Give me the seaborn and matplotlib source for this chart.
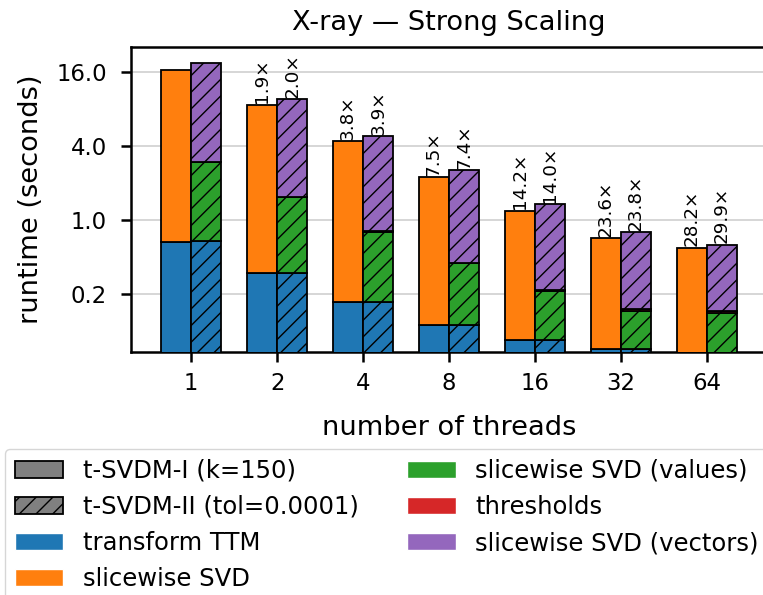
import numpy as np
import matplotlib
matplotlib.use("Agg")
import matplotlib.pyplot as plt
from matplotlib.patches import Patch
from matplotlib.ticker import FixedLocator, FuncFormatter, NullLocator
import seaborn as sns

threads = ["1", "2", "4", "8", "16", "32", "64"]

# t-SVDM-I (k=150)
ttm_1 = [0.666, 0.368, 0.215, 0.139, 0.106, 0.089, 0.070]
svd_1 = [16.03, 8.26, 4.16, 2.09, 1.078, 0.616, 0.522]

# t-SVDM-II (tol=0.0001)
ttm_2 = [0.675, 0.368, 0.214, 0.139, 0.105, 0.089, 0.070]
svd_values_2 = [2.275, 1.162, 0.589, 0.305, 0.159, 0.093, 0.106]
thresholds_2 = [0.003, 0.003, 0.003, 0.003, 0.004, 0.005, 0.006]
svd_vectors_2 = [15.95, 8.07, 4.01, 2.09, 1.074, 0.602, 0.444]

speedup_1 = ["", "1.9×", "3.8×", "7.5×", "14.2×", "23.6×", "28.2×"]
speedup_2 = ["", "2.0×", "3.9×", "7.4×", "14.0×", "23.8×", "29.9×"]

sns.set_style("ticks", {"axes.edgecolor": "black", "text.color": "black",
                        "axes.labelcolor": "black", "xtick.color": "black",
                        "ytick.color": "black"})
plt.rcParams['font.family'] = ['DejaVu Sans']
pal = sns.color_palette("tab10")
c_ttm, c_svd, c_val, c_thr, c_vec = pal[0], pal[1], pal[2], pal[3], pal[4]

fig = plt.figure(figsize=(7.63, 5.95), dpi=100)
ax = fig.add_axes([131 / 763, 243 / 595, 636 / 763, 305 / 595])

x = np.arange(len(threads))
w = 0.35
lw = 1.3


def stack(xpos, layers, colors, hatch=None):
    bottom = np.zeros(len(xpos))
    for vals, col in zip(layers, colors):
        vals = np.asarray(vals)
        ax.bar(xpos, vals, w, bottom=bottom, color=col, edgecolor="black",
               linewidth=lw, hatch=hatch, zorder=3)
        bottom = bottom + vals
    return bottom


top_1 = stack(x - w / 2, [ttm_1, svd_1], [c_ttm, c_svd])
top_2 = stack(x + w / 2, [ttm_2, svd_values_2, thresholds_2, svd_vectors_2],
              [c_ttm, c_val, c_thr, c_vec], hatch="//")

for xs, tops, labels in [(x - w / 2, top_1, speedup_1), (x + w / 2, top_2, speedup_2)]:
    for xi, t, lab in zip(xs, tops, labels):
        if lab:
            ax.annotate(lab, (xi, t), xytext=(0, 1), textcoords="offset points",
                        rotation=90, ha="center", va="bottom", fontsize=13.2, zorder=4)

ax.set_yscale("log", base=2)
ax.set_ylim(0.084, 25.5)
ax.set_xlim(-0.70, 6.70)
ax.yaxis.set_major_locator(FixedLocator([0.25, 1, 4, 16]))
ax.yaxis.set_major_formatter(FuncFormatter(lambda v, p: f"{v:.1f}"))
ax.yaxis.set_minor_locator(NullLocator())
ax.set_xticks(x)
ax.set_xticklabels(threads)
ax.yaxis.grid(True, color="#d6d6d6", linewidth=1.4, zorder=0)
ax.set_axisbelow(True)

for s in ax.spines.values():
    s.set_linewidth(1.8)
ax.tick_params(labelsize=16.4, length=7.5, width=1.8)
ax.tick_params(axis="y", pad=10)
ax.tick_params(axis="x", pad=7)

ax.set_xlabel("number of threads", fontsize=19.6, labelpad=14)
ax.set_ylabel("runtime (seconds)", fontsize=19.6, labelpad=9)
ax.set_title("X-ray — Strong Scaling", fontsize=19.6, pad=12)

handles = [
    Patch(facecolor="gray", edgecolor="black", linewidth=lw, label="t-SVDM-I (k=150)"),
    Patch(facecolor="gray", edgecolor="black", linewidth=lw, hatch="//", label="t-SVDM-II (tol=0.0001)"),
    Patch(facecolor=c_ttm, label="transform TTM"),
    Patch(facecolor=c_svd, label="slicewise SVD"),
    Patch(facecolor=c_val, label="slicewise SVD (values)"),
    Patch(facecolor=c_thr, label="thresholds"),
    Patch(facecolor=c_vec, label="slicewise SVD (vectors)"),
]
fig.legend(handles=handles, ncol=2, loc="upper left",
           bbox_to_anchor=(5 / 763, 1 - 449 / 595), fontsize=17.5,
           frameon=True, labelspacing=0.5, borderaxespad=0, handlelength=2.0)

fig.savefig("out.png", dpi=100)
